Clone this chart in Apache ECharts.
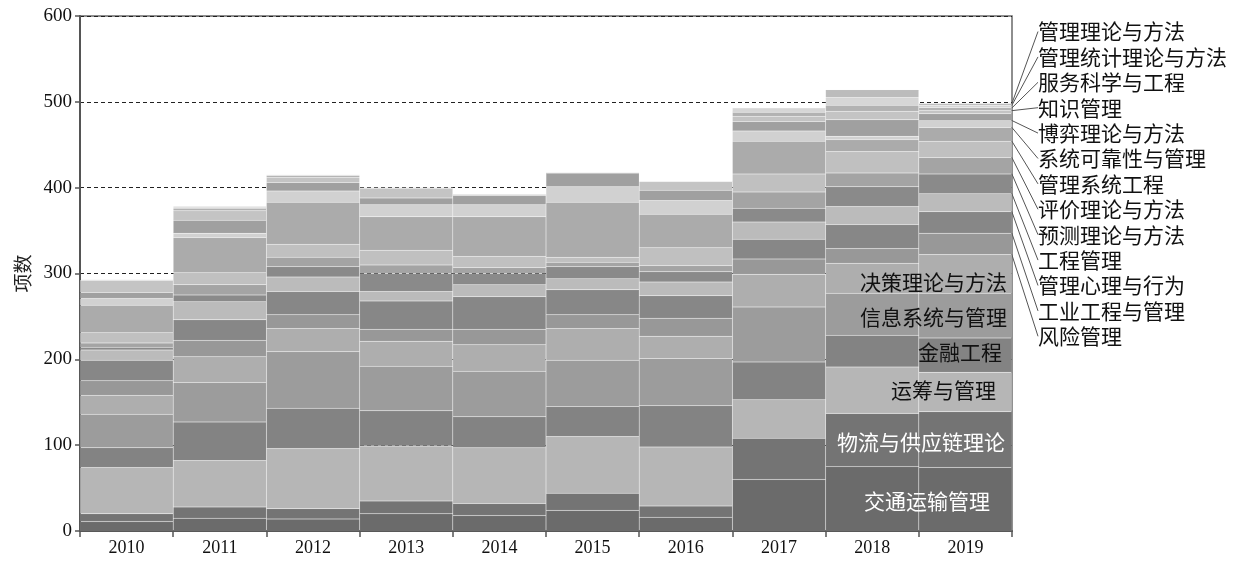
<!DOCTYPE html>
<html><head><meta charset="utf-8">
<script src="https://cdn.jsdelivr.net/npm/echarts@6/dist/echarts.min.js"></script>
<style>html,body{margin:0;padding:0;background:#fff}#c{width:1236px;height:568px}</style>
</head><body><div id="c"></div>
<script>
const years = ['2010','2011','2012','2013','2014','2015','2016','2017','2018','2019'];
const names = ['交通运输管理','物流与供应链理论','运筹与管理','金融工程','信息系统与管理','决策理论与方法',
  '风险管理','工业工程与管理','管理心理与行为','工程管理','预测理论与方法','评价理论与方法','管理系统工程',
  '系统可靠性与管理','博弈理论与方法','知识管理','服务科学与工程','管理统计理论与方法','管理理论与方法'];
// values per year, in the order of names (bottom to top of the stack)
const v2010 = [11, 9, 54, 23, 39, 22, 17, 24, 12, 3, 5, 12, 32, 8, 7, 14, 0, 0, 0];
const v2011 = [15, 13, 54, 45, 46, 30, 19, 24, 21, 8, 12, 14, 41, 5, 15, 11, 3, 1, 1];
const v2012 = [14, 12, 70, 47, 66, 27, 16, 27, 17, 12, 11, 15, 49, 13, 10, 6, 2, 1, 0];
const v2013 = [20, 15, 64, 41, 52, 29, 14, 33, 11, 21, 10, 17, 39, 14, 8, 11, 1, 0, 0];
const v2014 = [18, 14, 65, 36, 53, 31, 18, 38, 14, 13, 7, 13, 46, 14, 11, 1, 0, 0, 0];
const v2015 = [24, 20, 66, 35, 54, 37, 16, 29, 13, 14, 5, 6, 64, 18, 16, 0, 0, 0, 0];
const v2016 = [16, 13, 69, 48, 55, 26, 21, 26, 16, 12, 7, 21, 39, 16, 12, 10, 0, 0, 0];
const v2017 = [60, 48, 45, 44, 64, 38, 18, 23, 20, 16, 19, 21, 38, 12, 11, 6, 5, 4, 1];
const v2018 = [75, 62, 54, 37, 49, 35, 17, 28, 21, 23, 16, 25, 14, 4, 19, 10, 7, 9, 9];
const v2019 = [74, 65, 46, 40, 52, 45, 25, 25, 21, 23, 19, 19, 16, 8, 8, 4, 3, 3, 2];
const yearValues = [v2010, v2011, v2012, v2013, v2014, v2015, v2016, v2017, v2018, v2019];

const colors = ['#6b6b6b','#747474','#b6b6b6','#838383','#9c9c9c','#aeaeae',
  '#989898','#878787','#bbbbbb','#8a8a8a','#a4a4a4','#c0c0c0','#ababab',
  '#d1d1d1','#a0a0a0','#c4c4c4','#b2b2b2','#d6d6d6','#bcbcbc'];

const CJK = '"Noto Sans CJK SC", sans-serif';
const SERIF = '"Liberation Serif", "DejaVu Serif", serif';
// inside labels for the six large series (style only)
const inDist = [22, 7, 16, 10, 5, 5];
const inDy = [2, 2, -2, -3, 1, 8];
const inColor = ['#fff', '#fff', '#111', '#111', '#111', '#111'];
// side label rows for the small series (layout only)
const sideTop = 31.5, sideStep = 25.4;

const last = years.length - 1;
const series = names.map((name, s) => {
  const data = years.map((y, i) => {
    const v = yearValues[i][s];
    if (i !== last) return v;
    if (s < 6) {
      return {value: v, label: {show: true, position: 'insideRight', distance: inDist[s],
        offset: [0, inDy[s]], color: inColor[s], fontSize: 21, fontFamily: CJK, formatter: name}};
    }
    return {value: v, label: {show: true, position: 'right', formatter: name, color: '#111',
      fontSize: 21, fontFamily: CJK}};
  });
  const o = {
    name, type: 'bar', stack: 'total', barCategoryGap: '0%', data,
    itemStyle: {color: colors[s], borderColor: 'rgba(235,235,235,0.18)', borderWidth: 0.5},
    emphasis: {disabled: true}, animation: false
  };
  if (s >= 6) {
    o.labelLayout = {x: 1038, y: sideTop + (18 - s) * sideStep, align: 'left', verticalAlign: 'middle'};
    o.labelLine = {show: true, lineStyle: {color: '#555', width: 1}};
  }
  return o;
});

const chart = echarts.init(document.getElementById('c'), null, {renderer: 'canvas'});
chart.setOption({
  animation: false,
  backgroundColor: '#fff',
  grid: {left: 80, right: 224, top: 16, bottom: 37, show: true, borderColor: '#6a6a6a', borderWidth: 1.5, backgroundColor: 'transparent'},
  xAxis: {
    type: 'category', data: years, boundaryGap: true,
    axisLine: {lineStyle: {color: '#555', width: 2}},
    axisTick: {show: true, length: 6, lineStyle: {color: '#555', width: 1.5}},
    axisLabel: {color: '#111', fontSize: 18, fontFamily: SERIF, margin: 8}
  },
  yAxis: {
    type: 'value', min: 0, max: 600, interval: 100,
    name: '项数', nameLocation: 'middle', nameGap: 38, nameRotate: 90,
    nameTextStyle: {color: '#222', fontSize: 19, fontFamily: CJK},
    axisLine: {show: true, lineStyle: {color: '#555', width: 2}},
    axisTick: {show: true, length: 5, lineStyle: {color: '#555', width: 1.5}},
    axisLabel: {color: '#111', fontSize: 19, fontFamily: SERIF, margin: 8},
    splitLine: {show: true, lineStyle: {color: '#222', type: [4, 3], width: 1}}
  },
  series
});
</script></body></html>
